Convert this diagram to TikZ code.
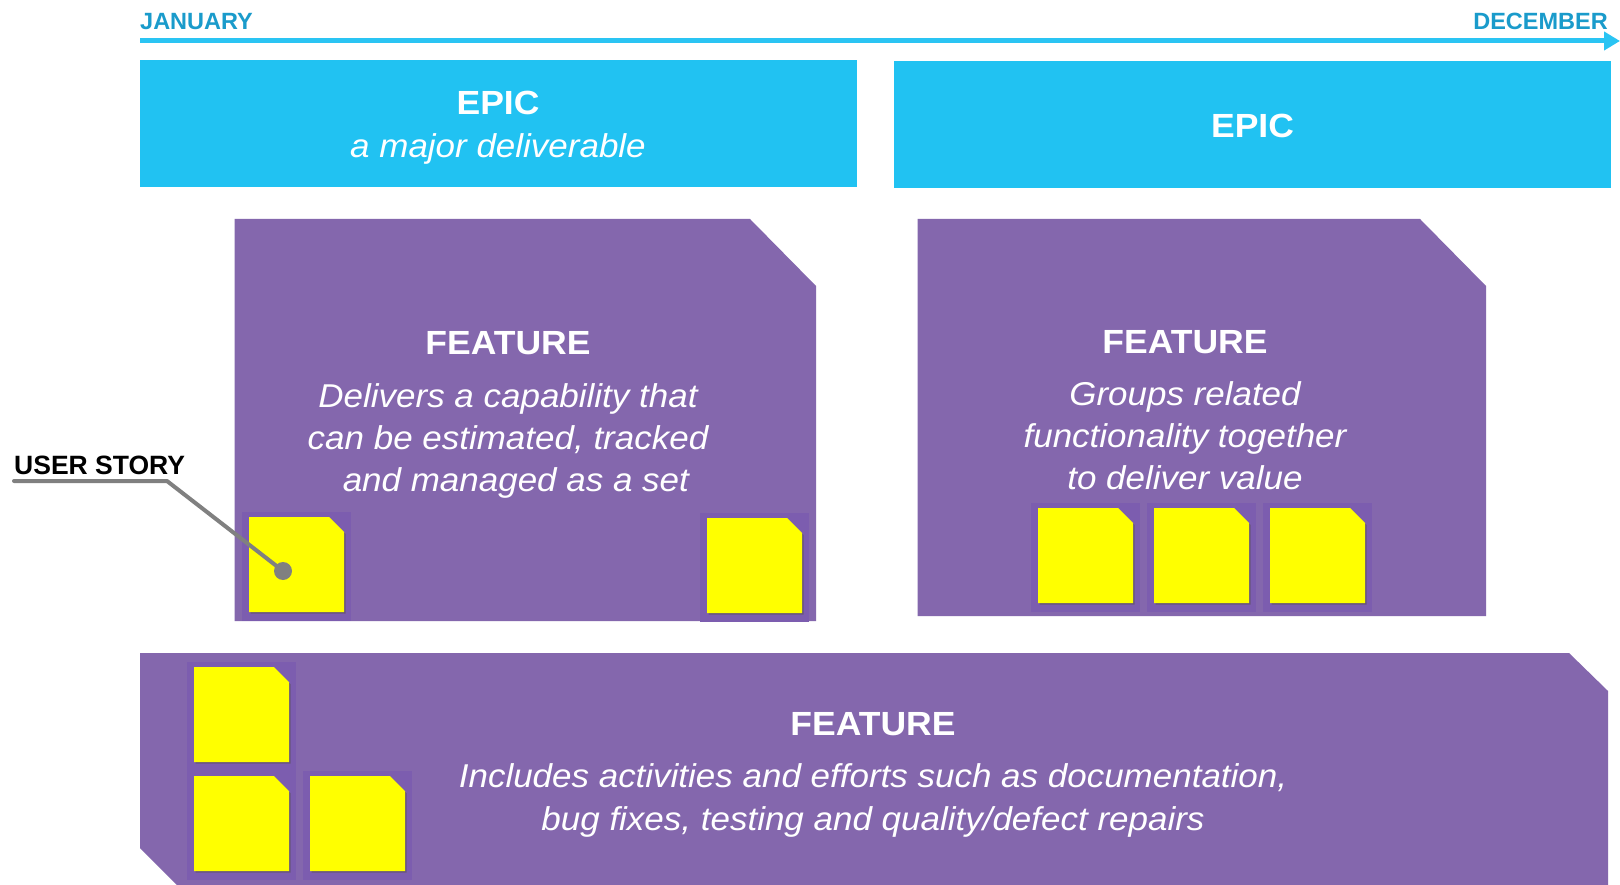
\documentclass[tikz,border=0pt]{standalone}
\usepackage{fontspec}
\setmainfont{Liberation Sans}
\newfontfamily\bodyfam{Liberation Sans}[FakeStretch=1.06]
\usetikzlibrary{arrows.meta}
\definecolor{epicblue}{HTML}{21C2F2}
\definecolor{lineblue}{HTML}{2AC4F3}
\definecolor{monthblue}{HTML}{1A9BCB}
\definecolor{featpurple}{HTML}{8467AD}
\definecolor{halopurple}{HTML}{7C5DAF}
\definecolor{noteyellow}{HTML}{FFFF00}
\definecolor{pointergray}{HTML}{808080}
\tikzset{
  month/.style={text=monthblue, font=\fontsize{23.5}{28}\selectfont\bfseries, inner sep=0pt, anchor=base west},
  epicbox/.style={fill=epicblue, draw=none, inner sep=0pt, minimum width=717pt, minimum height=127pt},
  feat/.style={fill=featpurple, draw=none},
  titletext/.style={text=white, font=\fontsize{33.5}{40}\selectfont\bodyfam\bfseries, inner sep=0pt, anchor=base},
  bodytext/.style={text=white, font=\fontsize{33}{40}\selectfont\bodyfam\itshape, inner sep=0pt, anchor=base},
  sticky/.pic={
    \fill[halopurple] (-7,-5) rectangle (102,104);
    \fill[black!80!yellow, opacity=.45] (1.5,2) -- (81.5,2) -- (96.5,17) -- (96.5,96.5) -- (1.5,96.5) -- cycle;
    \fill[noteyellow] (0,0) -- (80,0) -- (95,15) -- (95,95) -- (0,95) -- cycle;
  }
}
\begin{document}
\begin{tikzpicture}[x=1pt,y=-1pt]
\useasboundingbox (0,0) rectangle (1620,885);
\fill[white] (0,0) rectangle (1620,885);

% timeline
\node[month] (jan) at (140,29.5) {JANUARY};
\node[month, anchor=base east] (dec) at (1608,29.5) {DECEMBER};
\coordinate (tlstart) at (140,41);
\coordinate (tlend) at (1620,41);
\draw[lineblue, line width=5pt, -{Triangle[length=16pt,width=18pt]}] (tlstart) -- (tlend);

% epics
\node[epicbox, minimum width=716.5pt] (epic1) at (498.25,123.5) {};
\node[epicbox] (epic2) at (1252.5,124.5) {};
\node[titletext] (epic1t) at (498,114.5) {EPIC};
\node[bodytext] (epic1s) at (498,157.5) {a major deliverable};
\node[titletext] (epic2t) at (1252.5,138) {EPIC};

% features
\fill[feat] (234.5,219) -- (750,219) -- (816,286) -- (816,621) -- (234.5,621) -- cycle;
\fill[feat] (917.5,219) -- (1420,219) -- (1486,286) -- (1486,616) -- (917.5,616) -- cycle;
\fill[feat] (140,653) -- (1569,653) -- (1608,691) -- (1608,885) -- (177,885) -- (140,848) -- cycle;

\node[titletext] (f1t) at (508,355) {FEATURE};
\node[bodytext] (f1a) at (508,407) {Delivers a capability that};
\node[bodytext] (f1b) at (508,449.5) {can be estimated, tracked};
\node[bodytext] (f1c) at (511,491) {\ and managed as a set};

\node[titletext] (f2t) at (1185,353) {FEATURE};
\node[bodytext] (f2a) at (1185,405) {Groups related};
\node[bodytext] (f2b) at (1185,447) {functionality together};
\node[bodytext] (f2c) at (1185,489) {to deliver value};

\node[titletext] (f3t) at (873,735) {FEATURE};
\node[bodytext] (f3a) at (873,787) {Includes activities and efforts such as documentation,};
\node[bodytext] (f3b) at (873,830) {bug fixes, testing and quality/defect repairs};

% user stories
\pic at (249,517) {sticky};
\pic at (707,518) {sticky};
\pic at (1038,508) {sticky};
\pic at (1154,508) {sticky};
\pic at (1270,508) {sticky};
\pic at (194,667) {sticky};
\pic at (194,776) {sticky};
\pic at (310,776) {sticky};

% user story callout
\node[font=\fontsize{26.5}{30}\selectfont\bfseries, text=black, inner sep=0pt, anchor=base west] (us) at (14,474.5) {USER STORY};
\coordinate (usA) at (14,481);
\coordinate (usB) at (167,481);
\node[circle, fill=pointergray, inner sep=0pt, minimum size=18pt] (usdot) at (283,571) {};
\draw[pointergray, line width=4pt, line cap=round, line join=round] (usA) -- (usB) -- (usdot.center);
\end{tikzpicture}
\end{document}
